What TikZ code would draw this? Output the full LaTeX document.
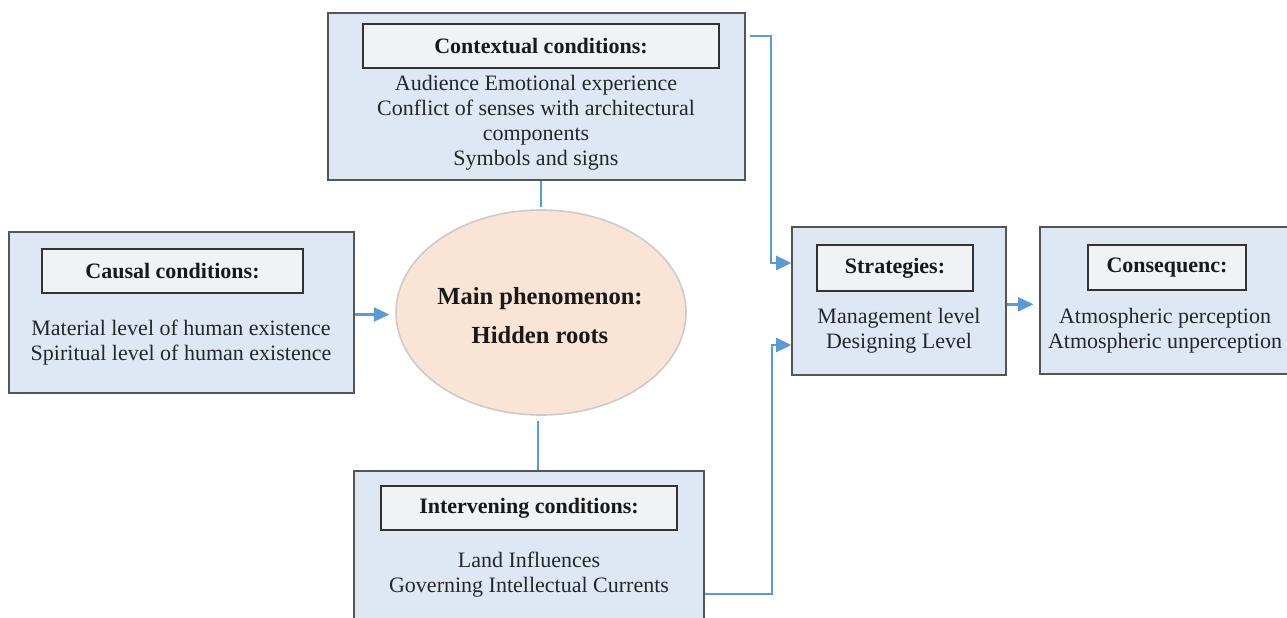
\documentclass[tikz,border=0pt]{standalone}
\usepackage{fontspec}
\setmainfont{Liberation Serif}
\usetikzlibrary{arrows.meta,shapes.geometric}
\definecolor{boxfill}{HTML}{DEE8F5}
\definecolor{boxline}{HTML}{555555}
\definecolor{headfill}{HTML}{F1F2F4}
\definecolor{headline}{HTML}{333333}
\definecolor{ellfill}{HTML}{FAE4D6}
\definecolor{ellline}{HTML}{CFCACA}
\definecolor{flow}{HTML}{5B9BD5}
\tikzset{
  panel/.style={rectangle, draw=boxline, fill=boxfill, line width=0.9pt, inner sep=0pt},
  header/.style={rectangle, draw=headline, fill=headfill, line width=0.9pt, inner sep=0pt,
    font=\fontsize{16.5}{19}\selectfont\bfseries, text=black!90},
  body/.style={align=center, font=\fontsize{16.5}{18.75}\selectfont, text=black!85, inner sep=0pt},
  flowarrow/.style={draw=flow, line width=1.9pt, -{Triangle[length=11.5pt,width=10.5pt]}},
  link/.style={draw=flow, line width=0.8pt},
}
\begin{document}
\begin{tikzpicture}[x=0.75pt,y=-0.75pt]
\useasboundingbox (0,0) rectangle (1287,617);

% condition panels
\node[panel, minimum width=312.75pt, minimum height=125.25pt] (ctx) at (536.5,96.5) {};
\node[header, minimum width=267pt, minimum height=33pt] (ctxh) at (541,46) {Contextual conditions:};
\node[body] (ctxt) at (536,122.5) {Audience Emotional experience\\Conflict of senses with architectural\\components\\Symbols and signs};

\node[panel, minimum width=258.75pt, minimum height=120.75pt] (causal) at (181.5,312.5) {};
\node[header, minimum width=195.75pt, minimum height=33pt] (causalh) at (172.5,271) {Causal conditions:};
\node[body] (causalt) at (181,342.5) {Material level of human existence\\Spiritual level of human existence};

\node[panel, minimum width=262.5pt, minimum height=119.25pt] (interv) at (529,550.5) {};
\node[header, minimum width=222pt, minimum height=33pt] (intervh) at (529,508) {Intervening conditions:};
\node[body] (intervt) at (529,574.5) {Land Influences\\Governing Intellectual Currents};

\node[panel, minimum width=160.5pt, minimum height=111pt] (strat) at (899,301) {};
\node[header, minimum width=117pt, minimum height=34.5pt] (strath) at (895,268) {Strategies:};
\node[body] (stratt) at (899,331) {Management level\\Designing Level};

\node[panel, minimum width=187.5pt, minimum height=110.25pt] (cons) at (1165,300.5) {};
\node[header, minimum width=118.5pt, minimum height=33.75pt] (consh) at (1167,267.5) {Consequenc:};
\node[body] (const) at (1165,330.5) {Atmospheric perception\\Atmospheric unperception};

% central phenomenon
\node[ellipse, draw=ellline, fill=ellfill, line width=1.2pt, minimum width=217.5pt, minimum height=153.75pt]
  (main) at (541,312.5) {};
\node[align=center, font=\fontsize{18.4}{29}\selectfont\bfseries, text=black!90, inner sep=0pt] (maint)
  at (540,315.5) {Main phenomenon:\\Hidden roots};

% connectors
\draw[link] (ctxh.south |- ctx.south) -- ([yshift=1.5pt]ctxh.south |- main.north);
\draw[link, shorten <=4pt] (main.south -| 538,0) -- (538,0 |- interv.north);
\draw[flowarrow, shorten >=4.5pt] ([yshift=-1.5pt]causal.east) -- ([yshift=-1.5pt]main.west);
\draw[flowarrow, shorten >=4.5pt] ([yshift=-2.5pt]strat.east) -- ([yshift=-2.5pt]strat.east -| cons.west);

\coordinate (topstart) at (750,36);
\coordinate (topbend) at (771,36);
\draw[flowarrow] (topstart) -- (topbend) -- (topbend |- 0,263) -- (strat.west |- 0,263);

\coordinate (botbend) at (772,594);
\draw[flowarrow] (interv.east |- botbend) -- (botbend) -- (botbend |- 0,345) -- (strat.west |- 0,345);
\end{tikzpicture}
\end{document}
